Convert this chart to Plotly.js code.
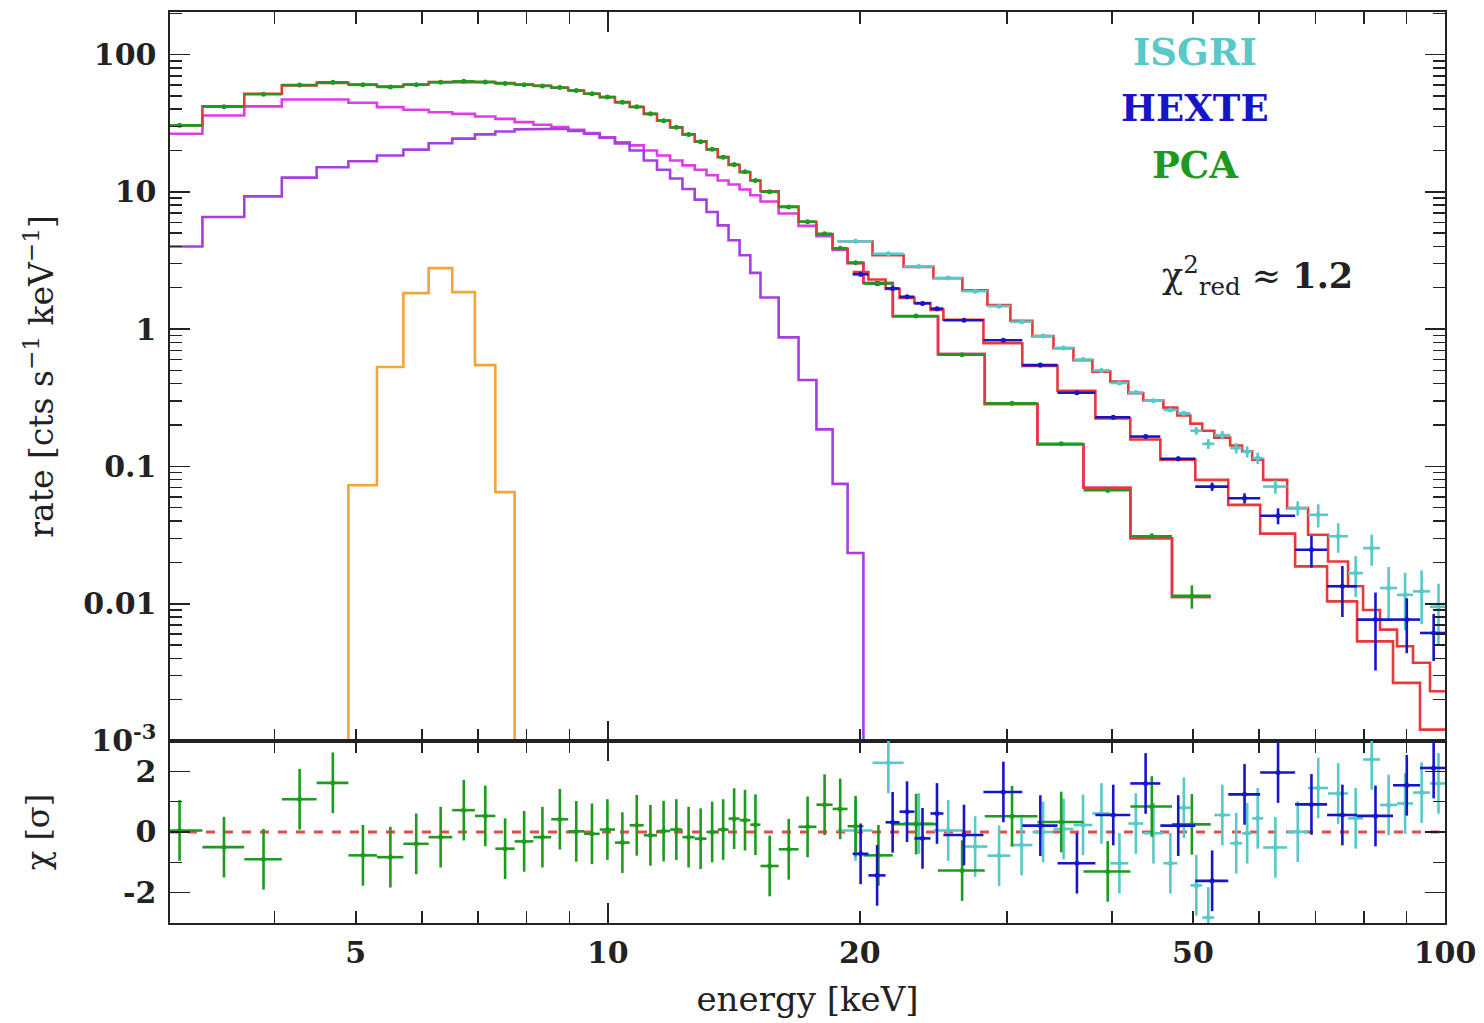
<!DOCTYPE html>
<html><head><meta charset="utf-8">
<script src="https://cdn.plot.ly/plotly-3.0.1.min.js"></script>
<style>html,body{margin:0;padding:0;background:#fff}#plot{width:1484px;height:1023px}</style>
</head><body><div id="plot"></div>
<script>
// ---------------- PCA (RXTE) ----------------
const pcaEdges = [2.88, 3.28, 3.68, 4.08, 4.49, 4.90, 5.30, 5.70, 6.11, 6.52, 6.94, 7.34, 7.74, 8.15, 8.56, 8.97, 9.37, 9.78, 10.20, 10.62, 11.04, 11.45, 11.87, 12.28, 12.70, 13.12, 13.53, 13.94, 14.37, 14.80, 15.22, 16.00, 16.90, 17.75, 18.56, 19.34, 20.20, 21.90, 24.80, 28.20, 32.60, 37.00, 42.10, 47.20, 52.50];
const pcaRate = [30.5, 41.7, 51.4, 60.0, 62.8, 60.2, 58.1, 60.3, 62.9, 63.8, 63.2, 61.6, 60.3, 59.1, 57.5, 54.7, 51.8, 49.0, 44.9, 41.6, 37.0, 33.0, 29.5, 26.2, 23.2, 20.4, 17.9, 15.8, 14.0, 12.1, 10.0, 7.75, 6.06, 4.95, 3.88, 3.05, 2.15, 1.245, 0.65, 0.288, 0.146, 0.067, 0.031, 0.0114];
const pcaErr = [0.3, 0.35, 0.4, 0.4, 0.4, 0.4, 0.4, 0.4, 0.4, 0.4, 0.4, 0.4, 0.4, 0.4, 0.4, 0.4, 0.35, 0.35, 0.35, 0.3, 0.3, 0.3, 0.25, 0.25, 0.22, 0.2, 0.18, 0.16, 0.15, 0.13, 0.08, 0.07, 0.06, 0.05, 0.045, 0.04, 0.03, 0.02, 0.012, 0.006, 0.004, 0.0025, 0.0015, 0.0022];
const pcaModel = [30.5, 41.9, 51.8, 59.6, 62.2, 60.5, 58.5, 60.5, 63.0, 63.5, 63.0, 61.9, 60.5, 59.2, 57.3, 54.7, 51.8, 49.0, 45.0, 41.5, 37.0, 33.0, 29.5, 26.2, 23.3, 20.4, 17.9, 15.7, 13.9, 12.1, 10.1, 7.8, 6.05, 4.9, 3.85, 3.04, 2.17, 1.24, 0.658, 0.285, 0.145, 0.070, 0.030, 0.0112];
const pcaChi = [0.05, -0.5, -0.9, 1.08, 1.62, -0.77, -0.83, -0.39, -0.17, 0.72, 0.53, -0.55, -0.31, -0.17, 0.42, 0.02, -0.06, 0.08, -0.35, 0.22, -0.11, 0.03, 0.08, -0.17, -0.22, 0.0, 0.08, 0.44, 0.39, 0.24, -1.12, -0.57, 0.17, 0.9, 0.76, 0.19, -0.77, 0.26, -1.27, 0.52, 0.33, -1.3, 0.84, 0.25];

// model components on the PCA grid
const compContinuum = [26.5, 36.0, 41.9, 47.1, 47.1, 44.6, 41.4, 39.6, 38.0, 37.0, 35.4, 34.0, 32.2, 30.8, 29.6, 28.3, 26.8, 25.0, 23.0, 21.8, 20.0, 18.4, 16.9, 15.6, 14.5, 13.2, 12.1, 11.3, 10.4, 9.44, 8.5, 6.95, 5.65, 4.75, 3.78, 3.02, 2.17, 1.24, 0.658, 0.285, 0.145, 0.070, 0.030, 0.0112];
const compThermal = [4.0, 6.56, 9.27, 12.7, 15.1, 16.7, 18.4, 20.3, 22.6, 24.4, 26.2, 27.5, 28.5, 28.8, 28.8, 27.8, 26.5, 24.8, 22.5, 20.0, 16.9, 14.5, 12.5, 10.5, 8.77, 7.13, 5.7, 4.44, 3.45, 2.57, 1.70, 0.871, 0.426, 0.186, 0.0746, 0.0234, 1e-6];
const lineEdges = [4.49, 4.90, 5.30, 5.70, 6.11, 6.52, 6.94, 7.34, 7.74, 8.15];
const lineRate = [1e-6, 0.073, 0.53, 1.83, 2.78, 1.86, 0.547, 0.065, 1e-6];

// ---------------- HEXTE ----------------
const hexteEdges = [19.61, 20.48, 21.47, 22.31, 23.24, 24.29, 25.17, 28.10, 31.27, 34.45, 38.23, 42.08, 45.71, 50.32, 55.09, 60.15, 66.22, 72.30, 78.52, 86.68, 93.36, 100.5];
const hexteRate = [2.51, 2.15, 1.98, 1.72, 1.54, 1.41, 1.16, 0.83, 0.547, 0.344, 0.228, 0.165, 0.1136, 0.0713, 0.0587, 0.0437, 0.0247, 0.0134, 0.00766, 0.00766, 0.00612];
const hexteErr = [0.09, 0.07, 0.06, 0.05, 0.045, 0.045, 0.03, 0.025, 0.02, 0.011, 0.007, 0.005, 0.0045, 0.005, 0.005, 0.0058, 0.0064, 0.0054, 0.0044, 0.0033, 0.0023];
const hexteModel = [2.6, 2.3, 1.96, 1.69, 1.55, 1.38, 1.17, 0.79, 0.54, 0.355, 0.224, 0.157, 0.112, 0.0798, 0.0525, 0.0324, 0.0187, 0.0104, 0.00532, 0.00265, 0.00121];
const hexteChi = [-0.72, -1.43, 0.32, 0.67, -0.21, 0.61, -0.1, 1.32, 0.21, -1.03, 0.56, 1.6, 0.21, -1.61, 1.24, 1.96, 0.91, 0.56, 0.53, 1.54, 2.11];

// ---------------- ISGRI ----------------
const isgriEdges = [18.82, 20.71, 22.56, 24.49, 26.52, 28.41, 30.26, 32.15, 34.07, 35.99, 37.92, 39.83, 41.85, 43.61, 46.09, 47.89, 49.64, 51.29, 53.02, 55.39, 57.24, 58.84, 60.65, 64.78, 68.62, 72.50, 76.60, 79.83, 83.64, 87.64, 91.58, 95.96, 100.5];
const isgriRate = [4.37, 3.54, 2.86, 2.36, 1.89, 1.47, 1.13, 0.89, 0.73, 0.60, 0.50, 0.405, 0.345, 0.301, 0.258, 0.244, 0.182, 0.146, 0.169, 0.136, 0.128, 0.115, 0.0713, 0.0497, 0.0444, 0.031, 0.0167, 0.0254, 0.013, 0.0116, 0.0123, 0.0095];
const isgriErr = [0.06, 0.05, 0.04, 0.035, 0.03, 0.025, 0.02, 0.018, 0.016, 0.014, 0.012, 0.011, 0.01, 0.009, 0.009, 0.009, 0.012, 0.012, 0.012, 0.012, 0.012, 0.011, 0.008, 0.006, 0.0085, 0.0075, 0.0055, 0.0065, 0.0055, 0.0052, 0.0052, 0.0045];
const isgriModel = [4.37, 3.45, 2.84, 2.35, 1.92, 1.50, 1.15, 0.89, 0.725, 0.595, 0.49, 0.415, 0.342, 0.302, 0.268, 0.235, 0.205, 0.182, 0.162, 0.142, 0.129, 0.112, 0.0798, 0.0497, 0.0318, 0.0203, 0.0134, 0.0090, 0.00647, 0.0049, 0.00371, 0.0023];
const isgriChi = [0.05, 2.28, 0.28, 0.05, -0.48, -0.78, -0.43, 0.0, 0.1, 0.23, 0.61, -1.03, 0.28, -0.04, -1.03, 0.8, -1.76, -2.82, 0.56, -0.37, -0.04, 0.45, -0.51, 0.01, 1.45, 1.27, 0.45, 2.39, 0.89, 0.94, 1.3, 1.6];

// ---------------- axes / labels ----------------
const xTickVals = [5, 10, 20, 50, 100];
const xTickText = ['5', '10', '20', '50', '100'];
const xLongTicks = [10, 100];
const xShortTicks = [3, 4, 5, 6, 7, 8, 9, 20, 30, 40, 50, 60, 70, 80, 90];
const yTickVals = [0.001, 0.01, 0.1, 1, 10, 100];
const yTickText = ['10<sup>-3</sup>', '0.01', '0.1', '1', '10', '100'];
const chiTickVals = [-2, 0, 2];
const chiTickText = ['-2', '0', '2'];
const chiMinor = [-1, 1];
const instruments = ['ISGRI', 'HEXTE', 'PCA'];

// ---------------- colours ----------------
const C = {pca:'#1f9a1f', hexte:'#1616c8', isgri:'#58c8c8', model:'#e8383a',
           cont:'#e03ce6', therm:'#a53fe0', line:'#f2a53a'};

function steps(edges, vals){
  const x=[], y=[];
  for(let i=0;i<vals.length;i++){ x.push(edges[i], edges[i+1]); y.push(vals[i], vals[i]); }
  return {x, y};
}
function binInfo(edges, n){
  const c=[], plus=[], minus=[];
  for(let i=0;i<n;i++){ const m=(edges[i]+edges[i+1])/2; c.push(m); plus.push(edges[i+1]-m); minus.push(m-edges[i]); }
  return {c, plus, minus};
}
function stepTrace(edges, vals, color, ya){
  const s = steps(edges, vals);
  return {x:s.x, y:s.y, type:'scatter', mode:'lines', xaxis:'x', yaxis:ya||'y',
          line:{color:color, width:2.6}, hoverinfo:'skip'};
}
function dataTrace(edges, vals, err, color, xa, ya, constErr){
  const b = binInfo(edges, vals.length);
  return {x:b.c, y:vals, type:'scatter', mode:'markers', xaxis:xa, yaxis:ya,
          marker:{color:color, size:5},
          error_x:{type:'data', symmetric:false, array:b.plus, arrayminus:b.minus, thickness:2.6, width:0, color:color},
          error_y: constErr ? {type:'constant', value:1, thickness:2.6, width:0, color:color}
                            : {type:'data', array:err, thickness:2.6, width:0, color:color},
          hoverinfo:'skip'};
}

const traces = [
  stepTrace(pcaEdges, compContinuum, C.cont),
  stepTrace(pcaEdges, compThermal, C.therm),
  stepTrace(lineEdges, lineRate, C.line),
  stepTrace(pcaEdges, pcaModel, C.model),
  stepTrace(hexteEdges, hexteModel, C.model),
  stepTrace(isgriEdges, isgriModel, C.model),
  dataTrace(isgriEdges, isgriRate, isgriErr, C.isgri, 'x', 'y'),
  dataTrace(hexteEdges, hexteRate, hexteErr, C.hexte, 'x', 'y'),
  dataTrace(pcaEdges, pcaRate, pcaErr, C.pca, 'x', 'y'),
  dataTrace(isgriEdges, isgriChi, null, C.isgri, 'x2', 'y2', true),
  dataTrace(pcaEdges, pcaChi, null, C.pca, 'x2', 'y2', true),
  dataTrace(hexteEdges, hexteChi, null, C.hexte, 'x2', 'y2', true),
  {x:[], y:[], type:'scatter', mode:'markers', xaxis:'x3', yaxis:'y2', hoverinfo:'skip'}
];

const xr = [Math.log10(3), 2];
const axCol = '#222';
const tickFont = {family:'DejaVu Serif', size:30, color:'#222', weight:'bold'};
function xAxisBase(anchor){
  return {type:'log', range:xr, anchor:anchor, showticklabels:false,
    tickmode:'array', tickvals:xLongTicks, ticks:'inside', ticklen:20, tickwidth:1.6, tickcolor:axCol,
    minor:{tickmode:'array', tickvals:xShortTicks, ticks:'inside', ticklen:12, tickwidth:1.6, tickcolor:axCol},
    showline:true, linecolor:axCol, linewidth:1.6, mirror:'ticks', showgrid:false, zeroline:false, automargin:false};
}
const domSplit = 0.1998;

const layout = {
  width:1484, height:1023,
  margin:{l:170, r:39, t:12, b:100},
  paper_bgcolor:'#fff', plot_bgcolor:'#fff',
  showlegend:false,
  font:{family:'DejaVu Serif', size:30, color:'#222'},
  xaxis: xAxisBase('y'),
  xaxis2: xAxisBase('y2'),
  xaxis3: {type:'log', range:xr, overlaying:'x2', anchor:'y2', side:'bottom',
    tickmode:'array', tickvals:xTickVals, ticktext:xTickText, ticks:'', showline:false,
    showgrid:false, zeroline:false, tickfont:tickFont, ticklabelstandoff:9, automargin:false,
    title:{text:'energy [keV]', font:{family:'DejaVu Serif', size:34, color:'#222'}, standoff:18}},
  yaxis: {type:'log', domain:[domSplit, 1], range:[-3, 2.31], anchor:'x',
    tickmode:'array', tickvals:yTickVals, ticktext:yTickText, ticks:'inside', ticklen:20, tickwidth:1.6, tickcolor:axCol,
    minor:{tickmode:'array', tickvals:(function(){const a=[];[0.001,0.01,0.1,1,10,100].forEach(d=>{for(let k=2;k<=9;k++)a.push(k*d);});return a;})(),
           ticks:'inside', ticklen:12, tickwidth:1.4, tickcolor:axCol},
    showline:true, linecolor:axCol, linewidth:1.6, mirror:'ticks', showgrid:false, zeroline:false,
    tickfont:tickFont, ticklabelstandoff:6, automargin:false,
    title:{text:'rate [cts s<sup>−1</sup> keV<sup>−1</sup>]', font:{family:'DejaVu Serif', size:33, color:'#222'}, standoff:20}},
  yaxis2: {domain:[0, domSplit], range:[-3, 3], anchor:'x2',
    tickmode:'array', tickvals:chiTickVals, ticktext:chiTickText, ticks:'inside', ticklen:20, tickwidth:1.6, tickcolor:axCol,
    minor:{tickmode:'array', tickvals:chiMinor, ticks:'inside', ticklen:12, tickwidth:1.4, tickcolor:axCol},
    showline:true, linecolor:axCol, linewidth:1.6, mirror:'ticks', showgrid:false, zeroline:false,
    tickfont:tickFont, ticklabelstandoff:6, automargin:false,
    title:{text:'χ [σ]', font:{family:'DejaVu Serif', size:32, color:'#222'}, standoff:64}},
  shapes:[{type:'line', layer:'below', xref:'x2 domain', x0:0, x1:1, yref:'y2', y0:0, y1:0,
           line:{color:'#e84a4a', width:3, dash:'dash'}}],
  annotations:[
    {text:'<b>'+instruments[0]+'</b>', xref:'paper', yref:'paper', x:0.804, y:0.956, showarrow:false,
     font:{family:'DejaVu Serif', size:37, color:C.isgri}, xanchor:'center', yanchor:'middle'},
    {text:'<b>'+instruments[1]+'</b>', xref:'paper', yref:'paper', x:0.804, y:0.8946, showarrow:false,
     font:{family:'DejaVu Serif', size:37, color:C.hexte}, xanchor:'center', yanchor:'middle'},
    {text:'<b>'+instruments[2]+'</b>', xref:'paper', yref:'paper', x:0.804, y:0.832, showarrow:false,
     font:{family:'DejaVu Serif', size:37, color:C.pca}, xanchor:'center', yanchor:'middle'},
    {text:'χ<sup>2</sup><sub>red</sub> ≈ <b>1.2</b>', xref:'paper', yref:'paper', x:0.853, y:0.711, showarrow:false,
     font:{family:'DejaVu Serif', size:35, color:'#222'}, xanchor:'center', yanchor:'middle'}
  ]
};

Plotly.newPlot('plot', traces, layout, {staticPlot:true, displayModeBar:false});
</script>
</body></html>
